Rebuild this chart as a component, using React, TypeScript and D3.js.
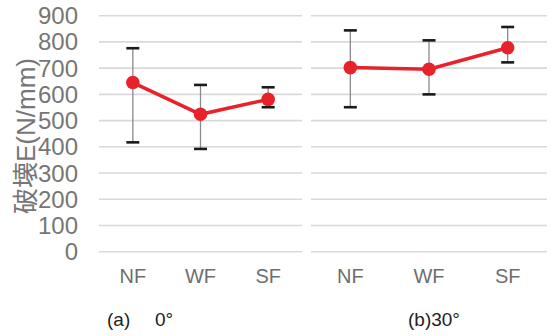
import * as d3 from 'd3';

const categories = ['NF', 'WF', 'SF'];
const yTicks = [0, 100, 200, 300, 400, 500, 600, 700, 800, 900];

// (a) 0°
const mean0 = [645, 524, 581];
const low0 = [417, 392, 551];
const high0 = [776, 636, 627];

// (b) 30°
const mean30 = [702, 696, 778];
const low30 = [551, 600, 722];
const high30 = [844, 806, 857];

const W = 555, H = 336;
const FONT = '"Liberation Sans", Arial, sans-serif';

const y = d3.scaleLinear().domain([0, 900]).range([251.7, 15.7]);

function Panel({ x0, x1, mean, low, high, children }) {
  const x = d3.scaleBand().domain(categories).range([x0, x1]);
  const cx = (c) => x(c) + x.bandwidth() / 2;
  const line = d3.line().x((d, i) => cx(categories[i])).y((d) => y(d));
  return (
    <g>
      {yTicks.map((t) => (
        <line key={t} x1={x0} x2={x1} y1={y(t)} y2={y(t)} stroke="#d9d9d9" strokeWidth={1.6} />
      ))}
      {categories.map((c, i) => (
        <g key={c}>
          <line x1={cx(c)} x2={cx(c)} y1={y(low[i])} y2={y(high[i])} stroke="#8a8a8a" strokeWidth={1.3} />
          <line x1={cx(c) - 6.5} x2={cx(c) + 6.5} y1={y(high[i])} y2={y(high[i])} stroke="#1a1a1a" strokeWidth={2.6} />
          <line x1={cx(c) - 6.5} x2={cx(c) + 6.5} y1={y(low[i])} y2={y(low[i])} stroke="#1a1a1a" strokeWidth={2.6} />
        </g>
      ))}
      <path d={line(mean)} fill="none" stroke="#e8222a" strokeWidth={3.5} />
      {categories.map((c, i) => (
        <circle key={c} cx={cx(c)} cy={y(mean[i])} r={6.8} fill="#e8222a" />
      ))}
      {categories.map((c) => (
        <text key={c} x={cx(c)} y={283} textAnchor="middle" fontSize={20} fill="#6e6e6e" fontFamily={FONT}>
          {c}
        </text>
      ))}
      {children}
    </g>
  );
}

export default function App() {
  return (
    <svg width={W} height={H} style={{ position: 'absolute', left: 0, top: 0, background: '#fff' }}>
      {yTicks.map((t) => (
        <text key={t} x={78} y={y(t) + 8.5} textAnchor="end" fontSize={24} fill="#767676" fontFamily={FONT}>
          {t}
        </text>
      ))}
      <text
        transform={`translate(35,136) rotate(-90)`}
        textAnchor="middle"
        fontSize={26}
        fill="#767676"
        fontFamily={'"Liberation Sans", "Noto Sans CJK JP", sans-serif'}
      >
        破壊E(N/mm)
      </text>
      <Panel x0={99} x1={302} mean={mean0} low={low0} high={high0}>
        <text y={326} fontSize={19} fill="#222" fontFamily={FONT}>
          <tspan x={107}>(a)</tspan>
          <tspan x={155}>0°</tspan>
        </text>
      </Panel>
      <Panel x0={311} x1={547} mean={mean30} low={low30} high={high30}>
        <text x={408} y={326} fontSize={19} fill="#222" fontFamily={FONT}>
          (b)30°
        </text>
      </Panel>
    </svg>
  );
}
